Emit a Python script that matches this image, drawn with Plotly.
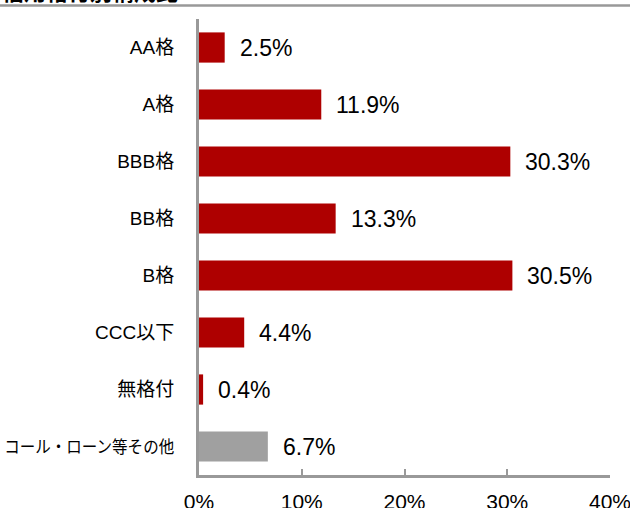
import plotly.graph_objects as go

categories = ["AA格", "A格", "BBB格", "BB格", "B格", "CCC以下", "無格付", "コール・ローン等その他"]
values = [2.5, 11.9, 30.3, 13.3, 30.5, 4.4, 0.4, 6.7]
labels = ["2.5%", "11.9%", "30.3%", "13.3%", "30.5%", "4.4%", "0.4%", "6.7%"]
bar_colors = ["#AE0000"] * 7 + ["#A0A0A0"]
x_ticks = [0, 10, 20, 30, 40]
x_ticklabels = ["0%", "10%", "20%", "30%", "40%"]
title_text = "信用格付別構成比"

FONT = "Arial, 'Liberation Sans', 'Noto Sans CJK JP', sans-serif"

y_ticktext = [c if len(c) < 8 else '<span style="font-size:17px">' + c + '</span>'
              for c in categories]

fig = go.Figure(go.Bar(
    x=values, y=categories, orientation="h",
    marker=dict(color=bar_colors, line=dict(width=0)),
    hoverinfo="skip",
))

for c, v, t in zip(categories, values, labels):
    fig.add_annotation(x=v, y=c, text=t, showarrow=False, xanchor="left",
                       xshift=13, font=dict(size=23, color="#000000", family=FONT))

fig.add_annotation(xref="paper", yref="paper", x=-199/411, y=1, xanchor="left",
                   yanchor="bottom", yshift=12, text="<b>" + title_text + "</b>",
                   showarrow=False, font=dict(size=22, color="#000000", family=FONT))

fig.add_shape(type="line", xref="paper", yref="paper",
              x0=-199/411, x1=431/411, y0=1 + 13.5/456, y1=1 + 13.5/456,
              line=dict(color="#999999", width=2.5))

fig.update_layout(
    width=630, height=508,
    margin=dict(l=199, r=20, t=19, b=33, autoexpand=False),
    paper_bgcolor="white", plot_bgcolor="white",
    bargap=0.47, showlegend=False,
    font=dict(family=FONT, color="#000000"),
    xaxis=dict(range=[0, 40], tickvals=x_ticks, ticktext=x_ticklabels, automargin=False,
               showgrid=False, zeroline=False, showline=True, linecolor="#999999",
               linewidth=2.5, ticks="inside", ticklen=6, tickwidth=2, tickcolor="#999999",
               tickfont=dict(size=21, color="#000000"), ticklabelstandoff=6,
               ticklabeloverflow="allow"),
    yaxis=dict(autorange="reversed", automargin=False, showgrid=False, zeroline=False,
               showline=True, tickvals=categories, ticktext=y_ticktext,
               linecolor="#999999", linewidth=3, ticks="",
               tickfont=dict(size=19, color="#000000"), ticklabelstandoff=18),
)

post = """
document.documentElement.style.margin='0';
document.documentElement.style.padding='0';
document.body.style.margin='0';
document.body.style.padding='0';
document.body.style.overflow='hidden';
(function(){
  var gd = document.getElementById('{plot_id}');
  function f(){
    gd.querySelectorAll('.ytick text').forEach(function(t){
      if (t.textContent.indexOf('コール') >= 0) {
        t.setAttribute('textLength', '170');
        t.setAttribute('lengthAdjust', 'spacingAndGlyphs');
      }
    });
  }
  f();
  if (gd.on) { gd.on('plotly_afterplot', f); }
})();
"""

fig.write_html("out.html", post_script=post, config={"displayModeBar": False})
